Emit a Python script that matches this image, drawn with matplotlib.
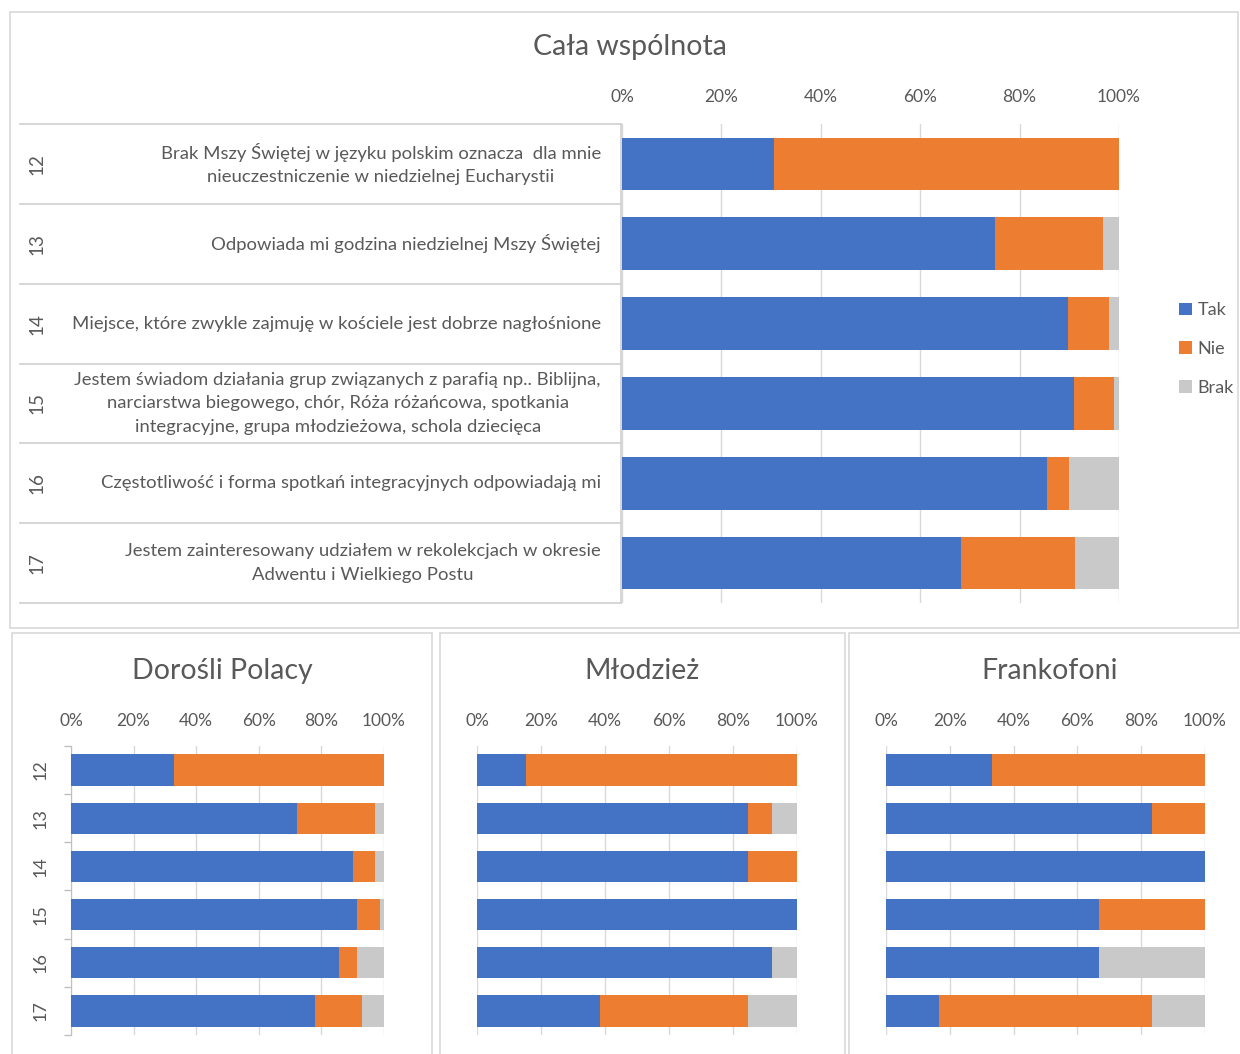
import matplotlib
matplotlib.use("Agg")
import matplotlib.pyplot as plt
from matplotlib.patches import Patch, Rectangle
from matplotlib.transforms import blended_transform_factory
import numpy as np

plt.rcParams['font.family'] = ['Lato', 'DejaVu Sans']

# ---------------- data ----------------
questions = ["12", "13", "14", "15", "16", "17"]
question_texts = [
    "Brak Mszy Świętej w języku polskim oznacza  dla mnie\nnieuczestniczenie w niedzielnej Eucharystii",
    "Odpowiada mi godzina niedzielnej Mszy Świętej",
    "Miejsce, które zwykle zajmuję w kościele jest dobrze nagłośnione",
    "Jestem świadom działania grup związanych z parafią np.. Biblijna,\nnarciarstwa biegowego, chór, Róża różańcowa, spotkania\nintegracyjne, grupa młodzieżowa, schola dziecięca",
    "Częstotliwość i forma spotkań integracyjnych odpowiadają mi",
    "Jestem zainteresowany udziałem w rekolekcjach w okresie\nAdwentu i Wielkiego Postu",
]
series_names = ["Tak", "Nie", "Brak"]
xticks = [0, 20, 40, 60, 80, 100]
xtick_labels = ["0%", "20%", "40%", "60%", "80%", "100%"]

all_tak = [30.6, 75.1, 89.7, 91.0, 85.5, 68.3]
all_nie = [69.4, 21.6, 8.2, 8.0, 4.5, 22.8]
all_brak = [0.0, 3.3, 2.1, 1.0, 10.0, 8.9]

adults_tak = [33.0, 72.3, 90.0, 91.4, 85.7, 78.1]
adults_nie = [67.0, 24.9, 7.2, 7.2, 5.7, 14.8]
adults_brak = [0.0, 2.8, 2.8, 1.4, 8.6, 7.1]

youth_tak = [15.4, 84.6, 84.6, 100.0, 92.3, 38.5]
youth_nie = [84.6, 7.7, 15.4, 0.0, 0.0, 46.2]
youth_brak = [0.0, 7.7, 0.0, 0.0, 7.7, 15.3]

franco_tak = [33.3, 83.3, 100.0, 66.7, 66.7, 16.7]
franco_nie = [66.7, 16.7, 0.0, 33.3, 0.0, 66.6]
franco_brak = [0.0, 0.0, 0.0, 0.0, 33.3, 16.7]

titles = ["Cała wspólnota", "Dorośli Polacy", "Młodzież", "Frankofoni"]

colors = ["#4472C4", "#ED7D31", "#C9C9C9"]
grid_c = "#D9D9D9"
txt_c = "#595959"
border_c = "#D9D9D9"

W, H = 1240, 1054
fig = plt.figure(figsize=(W / 100, H / 100), dpi=100)


def fx(px):
    return px / W


def fy(py):
    return 1 - py / H


def make_ax(x0, x1, y0, y1):
    return fig.add_axes([fx(x0), fy(y1), fx(x1) - fx(x0), fy(y0) - fy(y1)])


def draw_bars(ax, tak, nie, brak, height, pad):
    y = np.arange(len(questions))
    left = np.zeros(len(questions))
    for vals, c in zip([tak, nie, brak], colors):
        vals = np.array(vals)
        ax.barh(y, vals, left=left, height=height, color=c, zorder=3, linewidth=0)
        left = left + vals
    ax.set_xlim(0, 100)
    ax.set_ylim(len(questions) - 0.5, -0.5)
    ax.set_xticks(xticks)
    ax.set_xticklabels(xtick_labels)
    ax.xaxis.tick_top()
    ax.tick_params(axis='x', length=0, labelsize=12.5, labelcolor=txt_c, pad=pad)
    ax.grid(axis='x', color=grid_c, linewidth=1, zorder=0)
    for s in ax.spines.values():
        s.set_visible(False)
    ax.set_facecolor('none')


# ---------- outer boxes ----------
for (x0, y0, x1, y1) in [(10, 12, 1238, 628), (12, 633, 432, 1060),
                         (440, 633, 845, 1060), (849, 633, 1245, 1060)]:
    fig.patches.append(Rectangle((fx(x0), fy(y1)), fx(x1) - fx(x0), fy(y0) - fy(y1),
                                 transform=fig.transFigure, fill=False,
                                 edgecolor=border_c, linewidth=1.2))

# ---------- top chart ----------
ax = make_ax(622, 1119, 124, 603)
draw_bars(ax, all_tak, all_nie, all_brak, 0.66, 13.5)
ax.set_yticks([])
fig.text(fx(630), fy(47), titles[0], ha='center', va='center', fontsize=20.5, color=txt_c)

blend = blended_transform_factory(fig.transFigure, ax.transData)
line_c = "#CFCFCF"
for b in np.arange(-0.5, len(questions), 1.0):
    ax.plot([fx(20), fx(621)], [b, b], transform=blend, color=line_c, lw=1.2, clip_on=False, zorder=2)
ax.plot([fx(621), fx(621)], [-0.5, len(questions) - 0.5], transform=blend, color=line_c,
        lw=1.2, clip_on=False)
for i, (q, t) in enumerate(zip(questions, question_texts)):
    ax.text(fx(37), i, q, transform=blend, rotation=90, ha='center', va='center',
            fontsize=13.5, color=txt_c)
    ax.text(fx(601), i, t, transform=blend, ha='right', va='center', multialignment='center',
            fontsize=13.3, color=txt_c, linespacing=1.6)

handles = [Patch(facecolor=c, edgecolor='none') for c in colors]
fig.legend(handles, series_names, loc='center left', bbox_to_anchor=(fx(1163), fy(349)),
           frameon=False, fontsize=13, handlelength=0.7, handleheight=0.7,
           handletextpad=0.3, labelspacing=1.25, labelcolor=txt_c)

# ---------- bottom charts ----------
bottom = [
    (71, 384, adults_tak, adults_nie, adults_brak, titles[1], 222),
    (477, 797, youth_tak, youth_nie, youth_brak, titles[2], 642),
    (886, 1205, franco_tak, franco_nie, franco_brak, titles[3], 1050),
]
for k, (x0, x1, tak, nie, brak, title, tx) in enumerate(bottom):
    a = make_ax(x0, x1, 746, 1035)
    draw_bars(a, tak, nie, brak, 0.65, 12)
    fig.text(fx(tx), fy(671), title, ha='center', va='center', fontsize=20.5, color=txt_c)
    if k == 0:
        a.spines['left'].set_visible(True)
        a.spines['left'].set_color("#BFBFBF")
        a.set_yticks(np.arange(len(questions)))
        a.set_yticklabels(questions, rotation=90, va='center', fontsize=13, color=txt_c)
        a.tick_params(axis='y', which='major', length=0, pad=16)
        a.set_yticks(np.arange(-0.5, len(questions), 1.0), minor=True)
        a.tick_params(axis='y', which='minor', length=5, color="#BFBFBF", width=1)
    else:
        a.set_yticks([])

fig.savefig("out.png", dpi=100, facecolor='white')
